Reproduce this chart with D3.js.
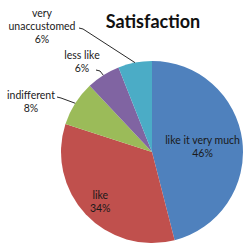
<!DOCTYPE html>
<html>
<head>
<meta charset="utf-8">
<script src="https://cdn.jsdelivr.net/npm/d3@7"></script>
<style>
  body { margin: 0; background: #fff; }
  svg text { font-family: Lato, "Liberation Sans", sans-serif; }
</style>
</head>
<body>
<svg id="chart" width="245" height="244"></svg>
<script>
const categories = ["like it very much", "like", "indifferent", "less like", "very unaccustomed"];
const values = [46, 34, 8, 6, 6];
const colors = ["#4F81BD", "#C0504D", "#9BBB59", "#8064A2", "#4BACC6"];

// label layout: inside labels use the arc centroid, outside labels get
// a text anchor point and a leader line to the slice edge
const labelLayout = [
  { inside: true, k: 0.56, dy: 0 },
  { inside: true, k: 0.78, dy: 0 },
  { inside: false, x: 31, y: 95, lines: ["indifferent"], lineFrom: [57, 97] },
  { inside: false, x: 82, y: 55, lines: ["less like"], lineFrom: [96, 70] },
  { inside: false, x: 42, y: 13, lines: ["very", "unaccustomed"], lineFrom: [79, 28] },
];

const cx = 152, cy = 152, r = 91;
const svg = d3.select("#chart");

svg.append("text")
  .attr("x", 153)
  .attr("y", 28)
  .attr("text-anchor", "middle")
  .attr("font-size", 18)
  .attr("font-weight", "bold")
  .attr("fill", "#111")
  .text("Satisfaction");

const data = categories.map((c, i) => ({ name: c, value: values[i], color: colors[i], layout: labelLayout[i] }));

const pie = d3.pie().sort(null).value((d) => d.value);
const arcs = pie(data);
const arc = d3.arc().innerRadius(0).outerRadius(r);

const g = svg.append("g").attr("transform", `translate(${cx},${cy})`);

g.selectAll("path")
  .data(arcs)
  .enter()
  .append("path")
  .attr("d", arc)
  .attr("fill", (d) => d.data.color);

const lineH = 13;

arcs.forEach((a) => {
  const L = a.data.layout;
  const mid = (a.startAngle + a.endAngle) / 2;
  if (L.inside) {
    const lx = cx + Math.sin(mid) * r * L.k;
    const ly = cy - Math.cos(mid) * r * L.k + L.dy;
    const t = svg.append("text")
      .attr("text-anchor", "middle")
      .attr("font-size", 10.5)
      .attr("fill", "#1a1a1a");
    t.append("tspan").attr("x", lx).attr("y", ly - 2).text(a.data.name);
    t.append("tspan").attr("x", lx).attr("y", ly - 2 + lineH).text(a.data.value + "%");
  } else {
    const ex = cx + Math.sin(mid) * r;
    const ey = cy - Math.cos(mid) * r;
    const [fx, fy] = L.lineFrom;
    svg.append("path")
      .attr("d", `M${fx},${fy}L${fx + 4},${fy + 1}L${ex},${ey}`)
      .attr("fill", "none")
      .attr("stroke", "#111")
      .attr("stroke-width", 0.9);
    const t = svg.append("text")
      .attr("text-anchor", "middle")
      .attr("font-size", 10.5)
      .attr("fill", "#1a1a1a");
    const lines = L.lines.concat([a.data.value + "%"]);
    lines.forEach((s, i) => {
      t.append("tspan").attr("x", L.x).attr("y", L.y + 4 + i * lineH).text(s);
    });
  }
});
</script>
</body>
</html>
